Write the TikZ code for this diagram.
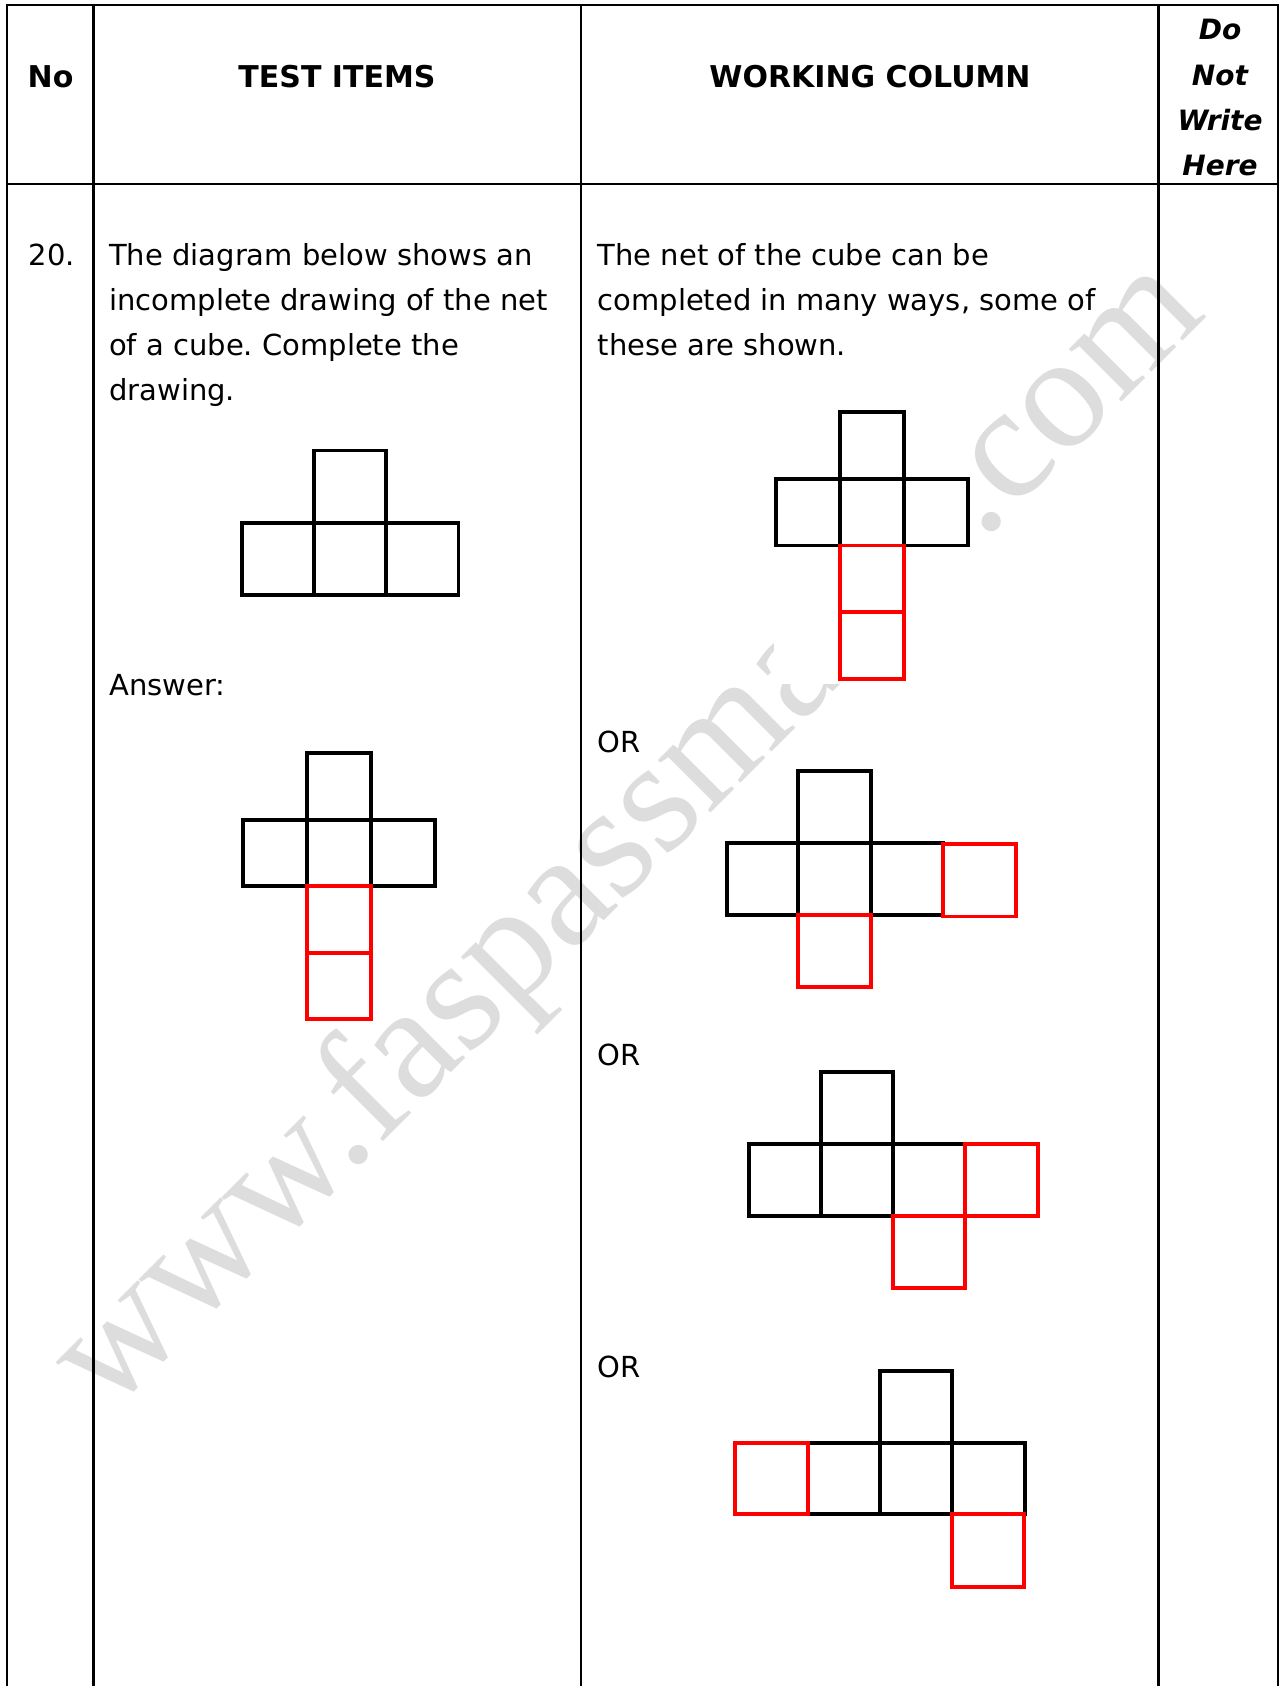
\documentclass[tikz,border=0pt]{standalone}
\usepackage{fontspec}
\setmainfont{DejaVu Sans}
\newfontfamily\wmfont{Liberation Serif}
\definecolor{wmgray}{RGB}{221,221,221}
\definecolor{netred}{RGB}{255,0,0}
\frenchspacing
\begin{document}
\begin{tikzpicture}[x=1pt,y=-1pt,
  tbl/.style={line width=2.6pt, black},
  blk/.style={line width=3.8pt, black},
  rd/.style={line width=3.8pt, netred},
  body/.style={anchor=base west, inner sep=0pt, font=\fontsize{29}{36}\selectfont},
  head/.style={anchor=base, inner sep=0pt, font=\fontsize{30}{36}\selectfont\bfseries},
  dnw/.style={anchor=base, inner sep=0pt, font=\fontsize{28}{34}\selectfont\bfseries\itshape},
  wmark/.style={anchor=base, inner sep=0pt, text=wmgray, rotate=45, font=\wmfont\fontsize{162}{170}\selectfont},
  cover/.style={fill=white, draw=none}]
\useasboundingbox (0,0) rectangle (1281,1686);
\fill[white] (0,0) rectangle (1281,1686);
% watermark
\node[wmark] (wm) at (658.6,865.6) {www.faspassmaths.com};
% white background of the first working-column net
\fill[cover] (774,409) rectangle (971,684);
% table
\draw[tbl] (7,1686) -- (7,5) -- (1278,5) -- (1278,1686);
\draw[tbl] (93.5,5) -- (93.5,1686);
\draw[tbl] (581,5) -- (581,1686);
\draw[tbl] (1158.5,5) -- (1158.5,1686);
\draw[tbl] (7,184) -- (1278,184);
% header
\node[head] (hno) at (50.5,88) {No};
\node[head] (hti) at (337,88) {TEST ITEMS};
\node[head] (hwc) at (870,88) {WORKING COLUMN};
\node[dnw] (d1) at (1220,40) {Do};
\node[dnw] (d2) at (1220,85) {Not};
\node[dnw] (d3) at (1220,130) {Write};
\node[dnw] (d4) at (1220,175) {Here};
% question text
\node[body] (n20) at (28.6,265) {20.};
\node[body] (q1) at (109,265) {The diagram below shows an};
\node[body] (q2) at (109,310) {incomplete drawing of the net};
\node[body] (q3) at (109,355) {of a cube. Complete the};
\node[body] (q4) at (109,400) {drawing.};
\node[body] (ans) at (109,695) {Answer:};
% working text
\node[body] (w1) at (597.5,265) {The net of the cube can be};
\node[body] (w2) at (597.5,310) {completed in many ways, some of};
\node[body] (w3) at (597.5,355) {these are shown.};
\node[body] (or1) at (597.5,752.7) {OR};
\node[body] (or2) at (597.5,1065) {OR};
\node[body] (or3) at (597.5,1377) {OR};
% question net
\draw[blk] (313.9,450.4) rectangle (386.2,522.7);
\draw[blk] (241.6,522.7) rectangle (313.9,595);
\draw[blk] (313.9,522.7) rectangle (386.2,595);
\draw[blk] (386.2,522.7) rectangle (458.5,595);
% answer net
\draw[blk] (307.3,753.3) rectangle (371.3,819.8);
\draw[blk] (243.3,819.8) rectangle (307.3,886.3);
\draw[blk] (307.3,819.8) rectangle (371.3,886.3);
\draw[blk] (371.3,819.8) rectangle (435.3,886.3);
\draw[rd] (307.3,886.3) rectangle (371.3,952.8);
\draw[rd] (307.3,952.8) rectangle (371.3,1019.3);
% working net 1
\draw[blk] (839.7,412.3) rectangle (903.8,479);
\draw[blk] (775.8,479) rectangle (839.7,545.5);
\draw[blk] (839.7,479) rectangle (903.8,545.5);
\draw[blk] (903.8,479) rectangle (968,545.5);
\draw[rd] (839.7,545.5) rectangle (903.8,612);
\draw[rd] (839.7,612) rectangle (903.8,678.8);
% working net 2
\draw[blk] (798.3,771) rectangle (871,843.3);
\draw[blk] (726.7,843.3) rectangle (798.3,915);
\draw[blk] (798.3,843.3) rectangle (871,915);
\draw[blk] (871,843.3) rectangle (943.3,915);
\draw[rd] (943.3,844) rectangle (1015.7,916.5);
\draw[rd] (798.3,915) rectangle (871,987.3);
% working net 3
\draw[blk] (820.7,1072.3) rectangle (893,1144.3);
\draw[blk] (749.3,1144.3) rectangle (820.7,1215.7);
\draw[blk] (820.7,1144.3) rectangle (893,1215.7);
\draw[blk] (893,1144.3) rectangle (964.7,1215.7);
\draw[rd] (964.7,1144.3) rectangle (1037.7,1215.7);
\draw[rd] (893,1215.7) rectangle (964.7,1288.3);
% working net 4
\draw[blk] (880,1371) rectangle (952,1442.7);
\draw[blk] (808.3,1442.7) rectangle (880,1514);
\draw[blk] (880,1442.7) rectangle (952,1514);
\draw[blk] (952,1442.7) rectangle (1025,1514);
\draw[rd] (735,1442.7) rectangle (808.3,1514);
\draw[rd] (952,1514) rectangle (1024,1586.7);
\end{tikzpicture}
\end{document}
